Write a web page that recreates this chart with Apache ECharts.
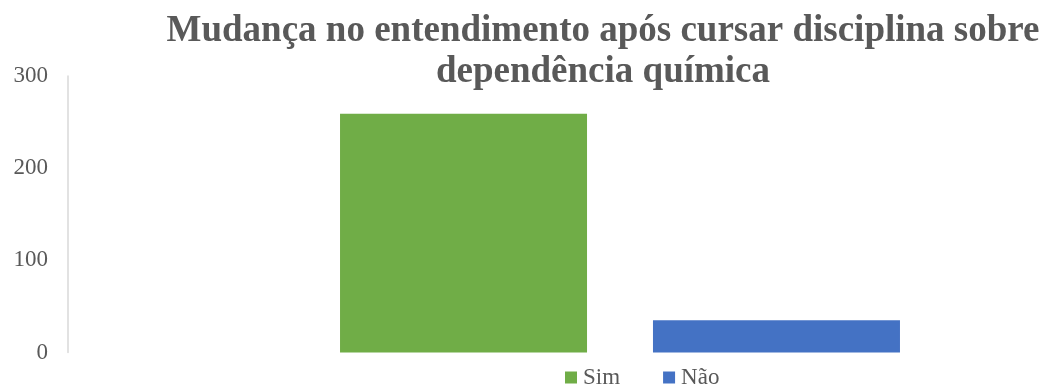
<!DOCTYPE html>
<html>
<head>
<meta charset="utf-8">
<script src="https://cdn.jsdelivr.net/npm/echarts@6/dist/echarts.min.js"></script>
<style>
  html, body { margin: 0; padding: 0; background: #fff; overflow: hidden; width: 1043px; height: 387px; }
  /* plot area runs past the right edge of the window */
  #chart { width: 1200px; height: 387px; }
</style>
</head>
<body>
<div id="chart"></div>
<script>
// Survey answers: did the course change the student's understanding?
const categories = ['Mudança no entendimento'];
const seriesNames = ['Sim', 'Não'];
const simValues = [259];
const naoValues = [35];
const yTicks = [0, 100, 200, 300];

const serif = '"Liberation Serif", "Times New Roman", serif';
const grey = '#595959';

const chart = echarts.init(document.getElementById('chart'), null, { renderer: 'canvas' });
chart.setOption({
  animation: false,
  title: {
    text: 'Mudança no entendimento após cursar disciplina sobre\ndependência química',
    left: 598,
    textAlign: 'center',
    top: 6,
    textStyle: {
      fontFamily: serif,
      fontWeight: 'bold',
      fontSize: 37,
      lineHeight: 41,
      color: grey
    }
  },
  legend: {
    data: seriesNames,
    left: 565,
    top: 366,
    padding: 0,
    itemWidth: 12,
    itemHeight: 12,
    itemGap: 43,
    icon: 'rect',
    textStyle: { fontFamily: serif, fontSize: 23, color: grey, padding: [0, 0, 0, 1] }
  },
  grid: { left: 68, top: 76, width: 1104, bottom: 34.5, containLabel: false },
  xAxis: {
    type: 'category',
    data: categories,
    axisLine: { show: false },
    axisTick: { show: false },
    axisLabel: { show: false }
  },
  yAxis: {
    type: 'value',
    min: yTicks[0],
    max: yTicks[yTicks.length - 1],
    interval: 100,
    axisLine: { show: true, lineStyle: { color: '#d9d9d9', width: 1.5 } },
    axisTick: { show: false },
    splitLine: { show: false },
    axisLabel: { fontFamily: serif, fontSize: 23, color: grey, margin: 20 }
  },
  series: [
    {
      name: seriesNames[0],
      type: 'bar',
      data: simValues,
      barWidth: 247,
      barGap: '26.7%',
      itemStyle: { color: '#70ad47' }
    },
    {
      name: seriesNames[1],
      type: 'bar',
      data: naoValues,
      barWidth: 247,
      itemStyle: { color: '#4472c4' }
    }
  ]
});
</script>
</body>
</html>
